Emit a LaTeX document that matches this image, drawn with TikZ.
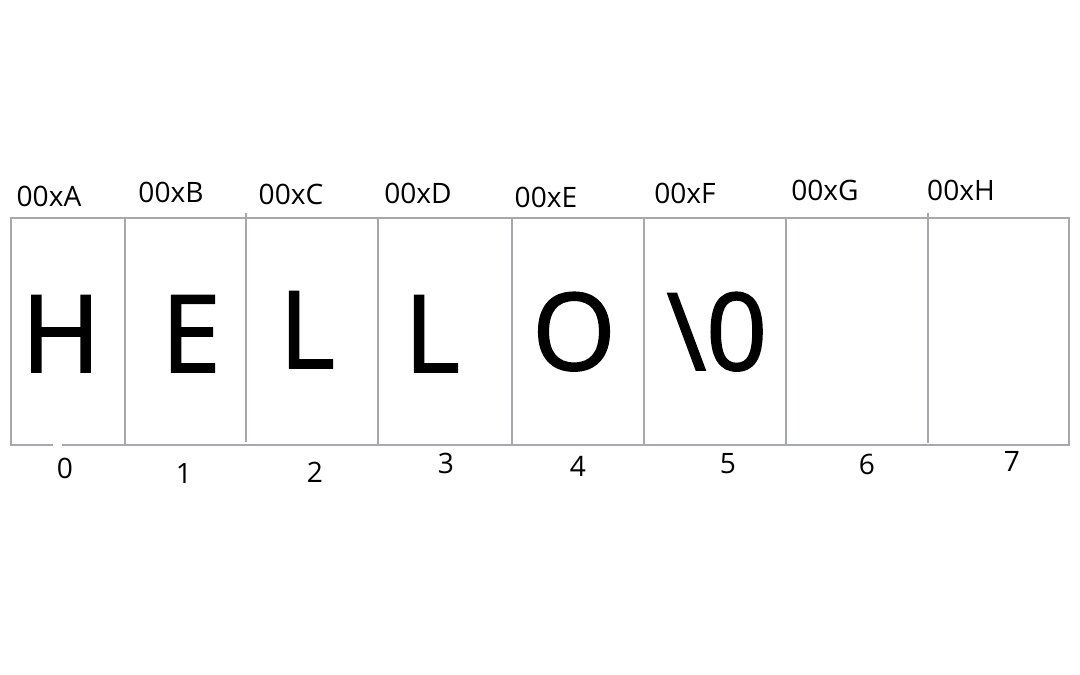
\documentclass[tikz,border=0pt]{standalone}
\usepackage{fontspec}
\setmainfont{Open Sans}
\newfontfamily\grossa[FakeBold=1.6]{Open Sans}
\usetikzlibrary{positioning}
\definecolor{cinza}{HTML}{A6A8B0}

\begin{document}
\begin{tikzpicture}[x=0.02cm, y=-0.02cm, every node/.style={inner sep=0pt, anchor=base},
					moldura/.style={draw=cinza, line width=1.1pt},
					letra/.style={font=\grossa\fontsize{61}{62}\selectfont},
					rotulo/.style={font=\fontsize{16}{18}\selectfont} ]
					\useasboundingbox (0,0) rectangle (1080,675);
					
					%Moldura e divisorias:
					\draw[moldura] (53,445) -- (11,445) -- (11,218) -- (1069,218) -- (1069,445) -- (62,445);
					\foreach \x/\a/\b in {125/218/445, 246/213/442, 378/218/445, 512/218/445,
										644/218/445, 786/218/445, 928/213/443}
						\draw[moldura] (\x,\a) -- (\x,\b);
					
					%Caracteres:
					\node[letra] (H)  at (61,372)  {H};
					\node[letra] (E)  at (191,372) {E};
					\node[letra] (L1) at (307,368) {L};
					\node[letra] (L2) at (432,372) {L};
					\node[letra] (O)  at (574,370) {O};
					\node[letra] (Z)  at (717,370) {\textbackslash 0};
					
					%Enderecos (centro x / linha de base y / texto):
					\foreach \n/\x/\y/\t in {a0/49/207/A, a1/171/203/B, a2/291/205/C, a3/418/204/D,
											a4/546/208/E, a5/685/204/F, a6/825/201/G, a7/961/201/H}
						\node[rotulo] (\n) at (\x,\y) {00x\t};
					
					%Indices:
					\foreach \n/\x/\y/\t in {i0/65/479/0, i1/184/484/1, i2/315/483/2, i3/446/474/3,
											i4/578/477/4, i5/728/474/5, i6/867/475/6, i7/1012/472/7}
						\node[rotulo] (\n) at (\x,\y) {\t};
				\end{tikzpicture}
\end{document}
